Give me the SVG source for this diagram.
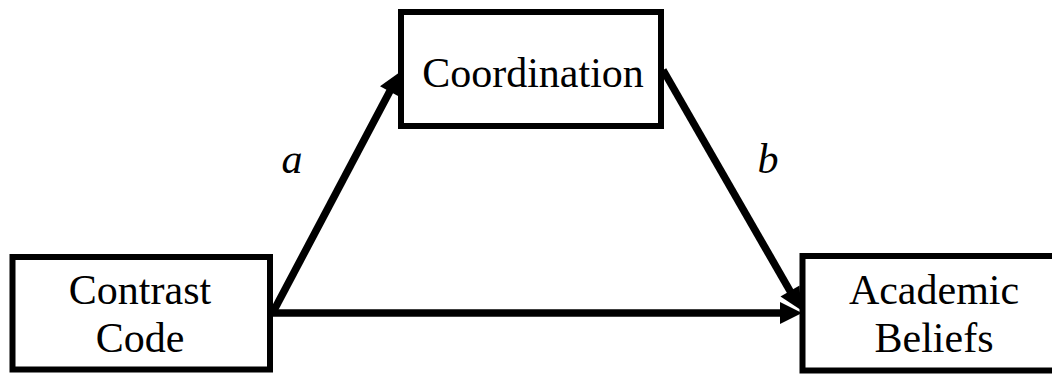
<svg xmlns="http://www.w3.org/2000/svg" width="1052" height="375" viewBox="0 0 1052 375">
  <style>
    .box { fill: #ffffff; stroke: #000000; stroke-width: 6; }
    .lbl { font-family: "Liberation Serif", "Times New Roman", serif; font-size: 42px; fill: #000000; text-anchor: middle; }
    .it { font-style: italic; }
    .conn { stroke: #000000; stroke-width: 7.5; fill: none; marker-end: url(#ah); }
  </style>
  <defs>
    <marker id="ah" markerUnits="userSpaceOnUse" markerWidth="24" markerHeight="24" refX="7" refY="11" orient="auto" overflow="visible">
      <path d="M0,0 L22,11 L0,22 z" fill="#000000"/>
    </marker>
  </defs>
  <rect width="1052" height="375" fill="#ffffff"/>
  <g id="node-coordination">
    <rect class="box" x="401" y="12" width="260" height="114"/>
    <text class="lbl" x="533" y="87">Coordination</text>
  </g>
  <g id="node-contrast">
    <rect class="box" x="12.5" y="257" width="257.5" height="112.5"/>
    <text class="lbl" x="140" y="304">Contrast</text>
    <text class="lbl" x="140" y="352">Code</text>
  </g>
  <g id="node-academic">
    <rect class="box" x="802.5" y="256" width="300" height="114.5"/>
    <text class="lbl" x="934" y="304">Academic</text>
    <text class="lbl" x="934" y="352">Beliefs</text>
  </g>
  <g id="connectors">
    <line class="conn" x1="272" y1="314" x2="393" y2="85.3"/>
    <line class="conn" x1="663" y1="70" x2="793.5" y2="297"/>
    <line class="conn" x1="272" y1="313" x2="787" y2="313"/>
  </g>
  <g id="labels">
    <text class="lbl it" x="292" y="173">a</text>
    <text class="lbl it" x="768" y="173">b</text>
  </g>
</svg>
